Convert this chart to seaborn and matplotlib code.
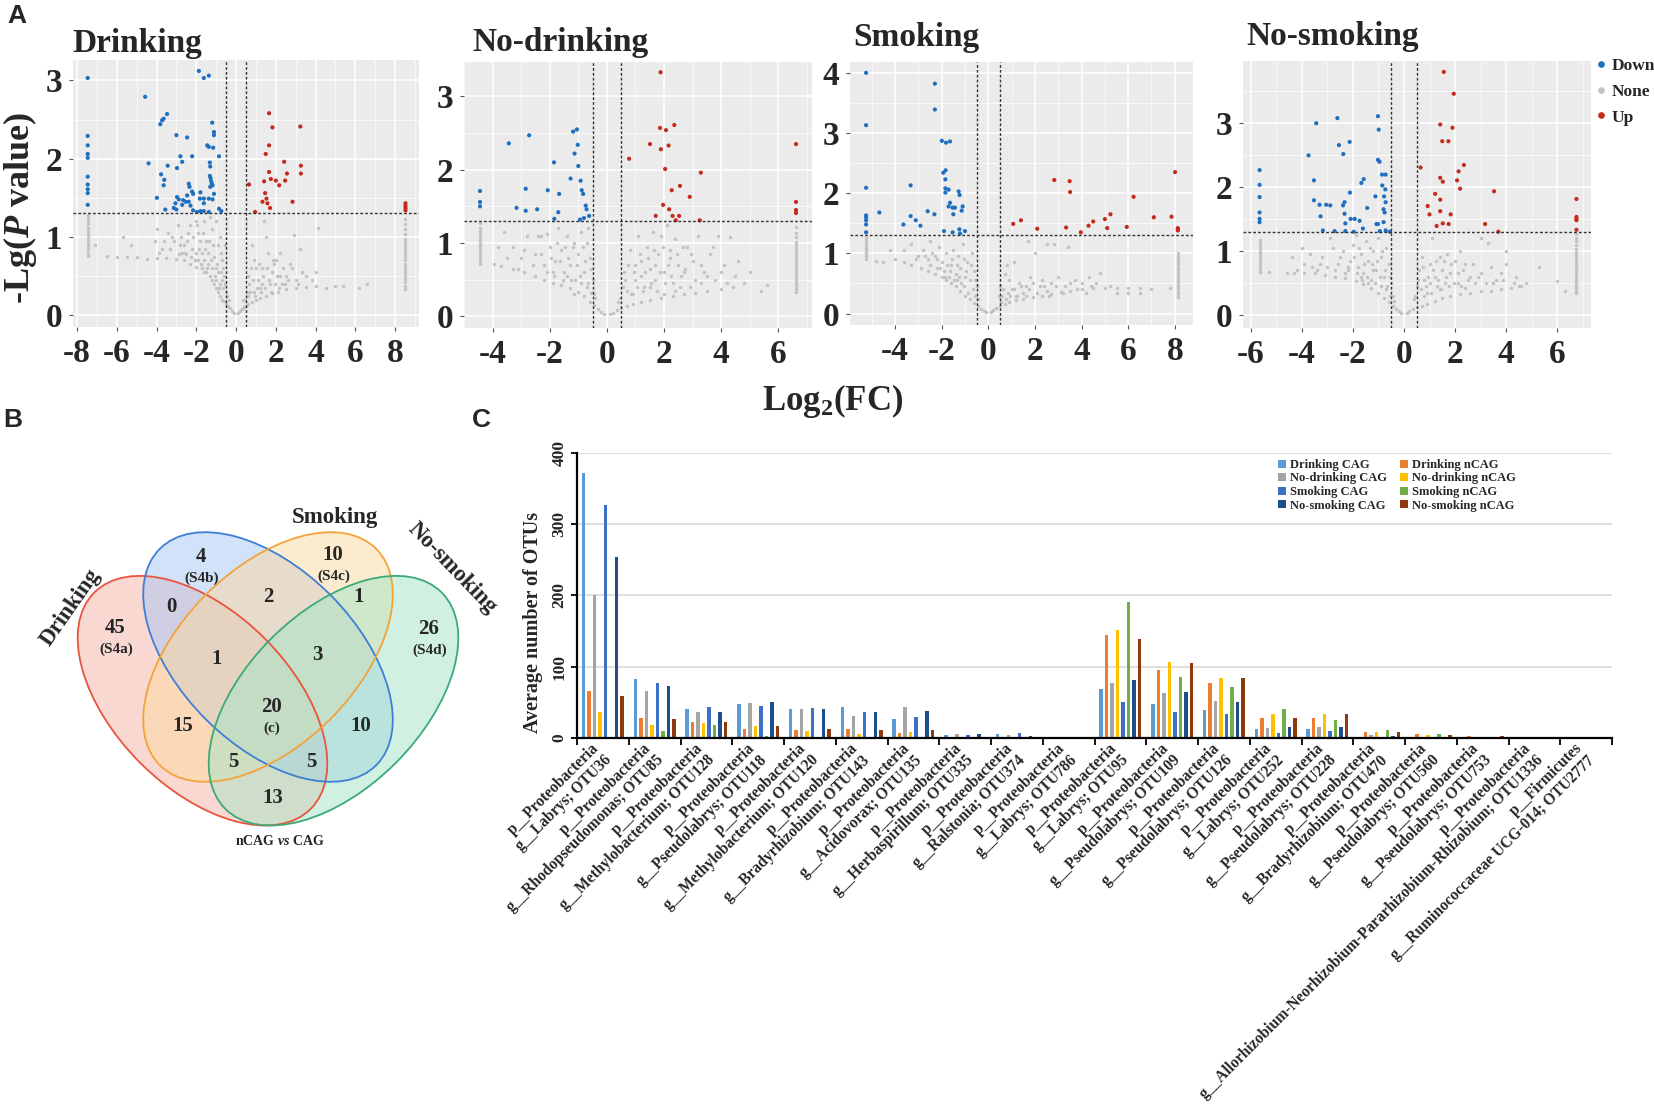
import matplotlib
matplotlib.use("Agg")
import matplotlib.pyplot as plt
import numpy as np
import pandas as pd
import seaborn as sns
from matplotlib.patches import Ellipse, Patch
from matplotlib.lines import Line2D
from matplotlib.ticker import MultipleLocator

W, H = 1654, 1108
SERIF = ["Liberation Serif", "DejaVu Serif"]
SANS = ["Liberation Sans", "DejaVu Sans"]

# ======================= Panel A data (log2FC, -lg P) =======================
dr_down = [(-7.46,3.03),(-7.46,2.29),(-7.46,2.17),(-7.46,2.06),(-7.46,2.01),(-7.46,1.77),(-7.46,1.67),(-7.46,1.61),(-7.46,1.56),(-7.46,1.41),
           (-4.57,2.79),(-1.87,3.12),(-1.62,3.03),(-1.37,3.06),(-3.47,2.57),(-3.64,2.51),(-3.72,2.49),(-3.81,2.44),(-3.0,2.30),(-2.46,2.27),
           (-1.20,2.46),(-1.11,2.34),(-1.11,2.30),(-1.45,2.17),(-1.37,2.15),(-1.15,2.14),(-2.80,2.03),(-2.21,2.03),(-2.71,1.96),(-0.86,2.03),
           (-4.40,1.94),(-3.44,1.91),(-2.97,1.88),(-1.32,1.95),(-1.30,1.90),(-3.77,1.80),(-3.61,1.73),(-3.64,1.66),(-1.32,1.78),(-1.28,1.75),
           (-1.25,1.71),(-1.22,1.68),(-1.18,1.66),(-1.30,1.64),(-2.38,1.68),(-2.34,1.64),(-2.21,1.58),(-2.16,1.55),(-2.46,1.53),(-1.79,1.57),
           (-1.11,1.55),(-3.98,1.50),(-2.97,1.51),(-2.88,1.48),(-2.66,1.47),(-2.54,1.45),(-3.05,1.43),(-2.71,1.41),(-2.38,1.45),(-2.29,1.40),
           (-1.82,1.49),(-1.62,1.49),(-1.37,1.49),(-1.18,1.48),(-1.62,1.43),(-3.56,1.35),(-3.13,1.37),(-3.0,1.35),(-2.16,1.34),(-1.96,1.32),
           (-1.79,1.33),(-1.62,1.33),(-1.37,1.32),(-0.86,1.36),(-0.74,1.33)]
dr_up = [(1.66,2.58),(1.83,2.40),(3.23,2.41),(1.66,2.17),(1.49,2.06),(2.42,1.96),(3.26,1.91),(1.66,1.83),(2.56,1.81),(3.26,1.81),
         (1.75,1.74),(2.0,1.72),(1.41,1.71),(2.47,1.72),(0.65,1.67),(2.17,1.66),(1.46,1.56),(1.53,1.49),(1.33,1.45),(2.84,1.45),
         (1.58,1.43),(1.71,1.37),(0.96,1.32),(8.52,1.43),(8.52,1.40),(8.52,1.37),(8.52,1.34)]
dr_none = [(-0.1,0.03),(-0.2,0.06),(-0.3,0.09),(-0.4,0.12),(-0.5,0.15),(-0.6,0.18),(-0.7,0.2),(-0.8,0.25),(-0.9,0.3),(-1.0,0.35),
           (-1.1,0.4),(-1.2,0.45),(-1.3,0.5),(-1.5,0.55),(-1.7,0.6),(-2.0,0.62),(-2.3,0.66),(-2.6,0.7),(-3.0,0.72),(-3.5,0.73),
           (-4.0,0.73),(-4.5,0.72),(-5.0,0.75),(-5.5,0.75),(-6.0,0.75),(-6.5,0.76),(-0.6,0.5),(-0.7,0.7),(-0.9,0.9),(-1.0,0.6),
           (-1.2,1.1),(-1.4,0.8),(-1.6,1.2),(-1.8,0.95),(-2.0,1.2),(-2.2,0.85),(-2.4,1.05),(-2.6,0.9),(-2.9,1.15),(-3.1,0.95),
           (-3.4,1.05),(-3.7,0.85),(-4.0,1.1),(-4.1,0.95),(-1.1,0.75),(-1.5,0.95),(-0.8,1.0),(-1.9,0.7),(-2.7,0.8),(-3.3,0.85),
           (-1.3,1.25),(-0.65,0.35),(-0.9,0.55),(-1.7,0.8),(-2.3,1.15),(-5.7,1.0),(-5.3,0.9),(-7.1,0.9),(-0.55,0.9),(-1.0,1.2),
           (-0.35,0.2),(-0.5,0.3),(-0.8,0.4),(-1.2,0.6),(-1.6,0.7),(-2.0,0.8),(-2.5,0.78),(-1.4,0.65),(-0.7,0.45),(-1.9,1.05),
           (-0.45,0.25),(-0.55,0.4),(-0.65,0.6),(-0.75,0.8),(-0.85,0.35),(-0.95,0.65),(-1.05,0.5),(-1.15,0.9),(-1.25,0.7),(-1.35,0.95),
           (-1.45,0.6),(-1.55,0.85),(-1.65,1.05),(-1.75,0.65),(-1.85,0.85),(-1.95,1.15),(-2.05,0.7),(-2.15,1.0),(-2.25,0.75),(-2.45,0.95),
           (-2.55,0.8),(-2.75,1.0),(-2.85,0.78),(-3.2,1.0),(-3.6,0.95),(-3.9,0.8),(-1.0,0.45),(-0.75,0.55),(-1.6,0.55),(-2.8,0.9),
           (0.1,0.03),(0.2,0.05),(0.3,0.08),(0.4,0.1),(0.5,0.12),(0.6,0.14),(0.8,0.17),(1.0,0.2),(1.2,0.22),(1.5,0.25),
           (1.8,0.28),(2.1,0.3),(2.5,0.33),(3.0,0.35),(3.5,0.36),(4.0,0.37),(4.5,0.35),(5.0,0.37),(5.4,0.38),(6.2,0.35),(6.6,0.4),
           (0.6,0.5),(0.8,0.9),(0.9,0.7),(1.1,0.45),(1.3,0.6),(1.4,1.2),(1.5,1.0),(1.6,0.8),(1.8,0.55),(2.0,0.7),
           (2.2,0.8),(2.5,0.5),(2.8,0.6),(3.0,0.45),(3.3,0.55),(2.9,1.03),(3.2,0.85),(4.1,1.12),(4.0,0.55),(1.2,0.35),
           (2.3,0.4),(0.7,0.3),(0.35,0.2),(0.6,0.25),(0.9,0.3),(1.3,0.4),(1.7,0.4),(2.2,0.5),(1.0,0.6),(1.9,0.65),
           (0.45,0.2),(0.55,0.3),(0.65,0.4),(0.75,0.6),(0.85,0.45),(0.95,0.25),(1.05,0.35),(1.15,0.65),(1.25,0.3),(1.35,0.5),
           (1.45,0.35),(1.55,0.6),(1.65,0.45),(1.75,0.3),(1.85,0.7),(1.95,0.4),(2.05,0.5),(2.15,0.35),(2.35,0.6),(2.45,0.4),
           (2.6,0.45),(2.7,0.65),(3.1,0.4),(3.5,0.5),(3.8,0.45)]
dr_col_x = [-7.46, 8.52]
dr_col_left = [0.76,0.80,0.84,0.88,0.92,0.96,1.00,1.04,1.08,1.12,1.16,1.20,1.24,1.28]
dr_col_right = [0.34,0.38,0.42,0.46,0.50,0.54,0.58,0.62,0.66,0.70,0.74,0.78,0.82,0.86,0.90,0.94,0.98,1.04,1.10,1.16,1.23]

nd_down = [(-4.44,1.71),(-4.44,1.56),(-4.44,1.50),(-3.43,2.36),(-2.72,2.47),(-2.84,1.74),(-3.16,1.48),(-2.84,1.44),(-2.44,1.46),(-2.07,1.72),
           (-1.85,2.10),(-1.67,1.67),(-1.70,1.42),(-1.84,1.33),(-1.18,2.52),(-1.05,2.55),(-1.02,2.34),(-1.13,2.22),(-1.0,2.05),(-1.27,1.88),
           (-0.92,1.85),(-0.88,1.72),(-0.83,1.67),(-0.74,1.51),(-0.71,1.46),(-0.62,1.37),(-0.80,1.34),(-0.94,1.32)]
nd_up = [(1.88,3.33),(1.86,2.57),(2.07,2.54),(2.36,2.61),(1.51,2.35),(2.16,2.33),(1.89,2.28),(0.78,2.15),(2.04,2.01),(3.29,1.96),
         (2.56,1.78),(2.27,1.72),(2.90,1.63),(1.97,1.52),(2.18,1.46),(1.71,1.37),(2.30,1.37),(2.53,1.37),(2.41,1.31),(3.25,1.31),
         (6.62,2.35),(6.62,1.56),(6.62,1.45),(6.62,1.41)]
nd_none = [(-0.1,0.03),(-0.2,0.06),(-0.3,0.1),(-0.45,0.15),(-0.6,0.2),(-0.8,0.28),(-1.0,0.33),(-1.3,0.38),(-1.6,0.42),(-1.9,0.45),
           (-2.2,0.5),(-2.5,0.55),(-2.9,0.6),(-3.3,0.65),(-3.7,0.68),(-3.95,0.72),(-0.5,0.5),(-0.6,0.8),(-0.7,1.0),(-0.8,0.6),
           (-0.9,1.15),(-1.0,0.85),(-1.1,0.5),(-1.2,0.95),(-1.3,0.7),(-1.4,1.1),(-1.5,0.6),(-1.6,0.9),(-1.7,1.2),(-1.8,0.75),
           (-2.0,0.95),(-2.2,0.7),(-2.3,1.1),(-2.5,0.85),(-2.8,1.1),(-2.9,0.9),(-3.1,0.65),(-3.3,0.95),(-3.6,1.15),(-3.8,0.95),
           (-2.1,1.12),(-1.15,0.3),(-0.55,0.32),(-2.4,1.1),(-1.9,0.6),(-0.65,1.2),(-0.4,0.25),(-0.9,0.45),(-1.4,0.55),(-0.7,0.4),
           (-0.45,0.3),(-0.55,0.65),(-0.65,0.45),(-0.75,0.75),(-0.85,0.95),(-0.95,0.55),(-1.05,0.7),(-1.15,1.0),(-1.25,0.5),(-1.35,0.8),
           (-1.45,0.95),(-1.55,0.5),(-1.65,0.75),(-1.75,1.0),(-1.85,0.55),(-1.95,0.8),(-2.1,0.6),(-2.3,0.85),(-2.6,0.7),(-3.0,0.8),(-3.5,0.8),
           (0.1,0.03),(0.2,0.05),(0.35,0.08),(0.5,0.11),(0.7,0.14),(0.9,0.17),(1.2,0.2),(1.5,0.22),(1.9,0.25),(2.3,0.27),
           (2.7,0.3),(3.1,0.32),(3.5,0.35),(4.0,0.37),(4.4,0.4),(4.8,0.45),(5.4,0.35),(5.6,0.42),(0.6,0.6),(0.7,0.35),
           (0.8,0.9),(1.0,0.5),(1.1,1.1),(1.2,0.75),(1.3,0.4),(1.4,0.95),(1.5,0.65),(1.6,1.15),(1.7,0.5),(1.8,0.85),
           (1.9,1.1),(2.0,0.6),(2.1,1.25),(2.2,0.9),(2.3,0.45),(2.4,1.05),(2.5,0.7),(2.6,0.55),(2.8,0.95),(2.9,0.4),
           (3.0,0.75),(3.2,1.1),(3.4,0.6),(3.6,0.85),(3.8,0.5),(4.1,0.7),(4.3,1.08),(4.5,0.55),(3.9,1.1),(2.0,0.3),
           (1.5,0.4),(0.4,0.2),(0.9,0.3),(1.2,0.55),(1.7,0.7),(2.4,0.35),(2.7,0.6),(3.3,0.45),(1.0,0.7),(2.2,0.8),
           (0.45,0.25),(0.55,0.4),(0.65,0.5),(0.75,0.7),(0.85,0.3),(0.95,0.6),(1.05,0.4),(1.15,0.85),(1.25,0.35),(1.35,0.6),
           (1.45,0.8),(1.55,0.45),(1.65,0.9),(1.75,0.35),(1.85,0.6),(1.95,0.95),(2.05,0.45),(2.15,0.7),(2.25,0.55),(2.45,0.85),
           (2.55,0.4),(2.65,0.95),(2.75,0.65),(2.95,0.85),(3.1,0.5),(3.3,0.7),(3.5,0.55),(3.7,0.95),(4.0,0.6),(4.2,0.45),
           (4.6,0.75),(5.0,0.6)]
nd_col_x = [-4.44, 6.62]
nd_col_left = [0.72,0.76,0.80,0.84,0.88,0.92,0.96,1.00,1.04,1.08,1.12,1.16,1.20,1.27]
nd_col_right = [0.33,0.37,0.41,0.45,0.49,0.53,0.57,0.61,0.65,0.69,0.73,0.77,0.81,0.85,0.89,0.93,0.97,1.02,1.08,1.14,1.22]

sm_down = [(-5.24,4.0),(-5.24,3.13),(-5.24,2.09),(-5.24,1.63),(-5.24,1.60),(-5.24,1.55),(-5.24,1.48),(-5.24,1.35),(-4.67,1.68),(-3.64,1.48),
           (-3.33,2.13),(-3.33,1.62),(-3.11,1.55),(-2.91,1.46),(-2.6,1.70),(-2.31,1.65),(-2.29,3.82),(-2.29,3.39),(-1.99,2.87),(-1.81,2.84),
           (-1.64,2.86),(-1.93,2.34),(-1.83,2.38),(-1.84,2.23),(-1.84,2.08),(-1.84,2.01),(-1.70,2.06),(-1.64,1.84),(-1.70,1.78),(-1.53,1.76),
           (-1.50,1.65),(-1.43,1.76),(-1.27,2.03),(-1.23,1.97),(-1.10,1.78),(-1.14,1.71),(-1.90,1.37),(-1.53,1.35),(-1.24,1.40),(-1.21,1.33),
           (-1.0,1.37)]
sm_up = [(1.07,1.49),(1.4,1.55),(2.1,1.41),(2.83,2.22),(3.49,2.20),(3.51,2.02),(3.34,1.43),(3.97,1.35),(4.3,1.46),(4.5,1.53),
         (5.0,1.57),(5.1,1.42),(5.24,1.65),(5.94,1.44),(6.23,1.94),(7.1,1.60),(7.86,1.61),(8.01,2.35),(8.13,1.42),(8.13,1.40),(8.13,1.38)]
sm_none = [(-0.1,0.02),(-0.2,0.05),(-0.3,0.08),(-0.45,0.12),(-0.6,0.18),(-0.8,0.24),(-1.0,0.3),(-1.2,0.38),(-1.4,0.45),(-1.6,0.5),
           (-1.8,0.55),(-2.0,0.6),(-2.3,0.65),(-2.6,0.7),(-2.9,0.75),(-3.3,0.8),(-3.6,0.85),(-4.0,0.9),(-4.5,0.85),(-4.8,0.87),
           (-0.5,0.45),(-0.6,0.7),(-0.7,1.0),(-0.8,0.55),(-0.9,0.85),(-1.0,0.6),(-1.1,1.15),(-1.2,0.75),(-1.3,0.95),(-1.4,0.65),
           (-1.5,1.05),(-1.6,0.8),(-1.7,0.6),(-1.8,1.0),(-2.0,0.85),(-2.1,1.1),(-2.3,0.95),(-2.5,1.2),(-2.6,0.9),(-2.8,1.05),
           (-3.0,0.95),(-3.3,1.15),(-3.6,1.05),(-4.2,1.05),(-2.2,0.75),(-1.9,0.7),(-0.55,0.3),(-1.05,0.45),(-2.4,1.0),(-1.35,0.55),
           (-0.45,0.25),(-0.55,0.55),(-0.65,0.4),(-0.75,0.8),(-0.85,0.35),(-0.95,0.7),(-1.05,0.9),(-1.15,0.5),(-1.25,0.6),(-1.35,0.8),
           (-1.45,0.55),(-1.55,0.9),(-1.65,0.7),(-1.75,0.8),(-1.85,0.6),(-2.05,0.75),(-2.2,0.9),(-2.5,0.8),(-2.7,0.95),(-3.1,0.9),
           (0.1,0.03),(0.2,0.06),(0.35,0.1),(0.5,0.13),(0.7,0.16),(0.9,0.19),(1.2,0.22),(1.5,0.25),(1.9,0.28),(2.3,0.3),
           (2.7,0.33),(3.1,0.36),(3.5,0.38),(4.0,0.4),(4.5,0.42),(5.0,0.42),(5.5,0.43),(6.0,0.43),(6.5,0.42),(7.0,0.4),(7.8,0.43),
           (0.5,0.45),(0.6,0.3),(0.7,0.65),(0.8,0.8),(0.9,0.55),(1.0,0.4),(1.1,0.85),(1.3,0.5),(1.5,0.35),(1.7,1.2),
           (1.8,0.6),(2.0,1.0),(2.2,0.45),(2.3,0.55),(2.5,1.15),(2.7,0.5),(3.0,0.6),(3.3,0.45),(3.4,1.1),(3.7,0.55),
           (4.0,0.5),(4.3,0.6),(4.6,0.5),(4.8,0.68),(5.2,0.45),(2.8,1.15),(1.6,0.45),(6.0,0.35),(1.2,0.3),(2.5,0.38),
           (0.45,0.3),(0.55,0.2),(0.65,0.4),(0.75,0.25),(0.85,0.35),(0.95,0.3),(1.1,0.4),(1.25,0.3),(1.4,0.45),(1.6,0.3),
           (1.75,0.4),(1.9,0.5),(2.1,0.35),(2.4,0.45),(2.6,0.3),(2.9,0.45),(3.2,0.35),(3.5,0.5),(3.8,0.4),(4.2,0.35),
           (4.4,0.45),(5.5,0.35),(6.5,0.35)]
sm_col_x = [-5.24, 8.13]
sm_col_left = [0.91,0.95,0.99,1.03,1.07,1.11,1.15,1.20,1.25]
sm_col_right = [0.28,0.32,0.36,0.40,0.44,0.48,0.52,0.56,0.60,0.64,0.68,0.72,0.76,0.80,0.84,0.88,0.92,0.96,1.00]

ns_down = [(-5.66,2.26),(-5.66,2.03),(-5.66,1.84),(-5.66,1.60),(-5.66,1.50),(-5.66,1.45),(-3.74,2.49),(-3.44,2.99),(-2.61,3.07),(-2.55,2.65),
           (-2.13,2.70),(-2.38,2.51),(-1.02,3.10),(-0.99,2.89),(-1.02,2.42),(-0.96,2.39),(-3.53,2.10),(-3.53,1.79),(-3.31,1.72),(-3.05,1.72),
           (-2.89,1.71),(-3.27,1.54),(-3.18,1.32),(-2.72,1.31),(-2.33,1.76),(-2.39,1.71),(-2.12,1.91),(-2.33,1.58),(-2.30,1.43),(-2.09,1.50),
           (-1.93,1.50),(-1.74,1.47),(-1.61,1.35),(-1.97,1.30),(-2.30,1.31),(-1.67,2.06),(-1.58,2.12),(-1.44,1.67),(-1.12,1.85),(-1.08,1.42),
           (-1.02,1.42),(-0.95,1.31),(-0.86,2.19),(-0.72,2.19),(-0.85,2.02),(-0.73,1.96),(-0.78,1.85),(-0.72,1.76),(-0.80,1.65),(-0.76,1.60),
           (-0.80,1.45),(-0.72,1.32),(-0.56,1.30)]
ns_up = [(1.56,3.79),(1.95,3.45),(1.42,2.97),(1.90,2.92),(1.50,2.71),(1.74,2.71),(0.65,2.30),(2.35,2.34),(2.14,2.24),(1.42,2.14),
         (1.52,2.08),(2.08,2.10),(2.20,1.97),(3.53,1.93),(1.22,1.89),(1.42,1.80),(0.93,1.70),(1.0,1.57),(1.42,1.62),(1.83,1.57),
         (1.52,1.43),(1.75,1.42),(1.28,1.39),(3.18,1.42),(3.70,1.30),(6.76,1.81),(6.76,1.53),(6.76,1.50),(6.76,1.48),(6.76,1.33)]
ns_none = [(-0.1,0.03),(-0.2,0.06),(-0.3,0.1),(-0.45,0.15),(-0.6,0.2),(-0.8,0.27),(-1.0,0.34),(-1.3,0.42),(-1.6,0.48),(-1.9,0.54),
           (-2.3,0.58),(-2.7,0.6),(-3.1,0.62),(-3.5,0.65),(-3.9,0.66),(-4.3,0.66),(-4.6,0.65),(-5.3,0.67),(-0.5,0.5),(-0.6,0.8),
           (-0.7,1.05),(-0.8,0.6),(-0.9,0.9),(-1.0,1.2),(-1.1,0.7),(-1.2,1.0),(-1.3,0.55),(-1.4,0.85),(-1.5,1.15),(-1.6,0.65),
           (-1.7,0.95),(-1.8,0.75),(-2.0,1.1),(-2.1,0.85),(-2.3,0.65),(-2.4,1.0),(-2.6,0.8),(-2.8,1.05),(-3.0,0.75),(-3.2,0.9),
           (-3.4,0.7),(-3.7,0.95),(-3.9,0.8),(-4.0,1.05),(-4.4,0.9),(-2.9,1.2),(-1.9,1.25),(-0.55,0.3),(-0.4,0.22),(-0.9,0.45),
           (-1.2,0.7),(-1.7,0.6),(-2.2,0.75),(-0.7,0.4),(-1.4,0.5),
           (-0.45,0.3),(-0.55,0.6),(-0.65,0.45),(-0.75,0.7),(-0.85,1.0),(-0.95,0.6),(-1.05,0.85),(-1.15,0.5),(-1.25,0.8),(-1.35,1.05),
           (-1.45,0.6),(-1.55,0.8),(-1.65,0.55),(-1.75,1.05),(-1.85,0.65),(-1.95,0.9),(-2.2,0.7),(-2.5,0.9),(-2.7,0.7),(-3.3,0.8),
           (-3.6,0.75),(-4.2,0.7),
           (0.1,0.03),(0.2,0.06),(0.35,0.09),(0.5,0.12),(0.7,0.15),(0.9,0.18),(1.2,0.22),(1.5,0.26),(1.8,0.3),(2.2,0.33),
           (2.6,0.35),(3.0,0.37),(3.4,0.38),(3.8,0.4),(4.2,0.43),(4.5,0.45),(4.8,0.5),(6.0,0.53),(6.3,0.37),(5.3,0.75),
           (0.5,0.45),(0.6,0.7),(0.7,0.9),(0.8,0.55),(0.9,0.35),(1.0,0.8),(1.1,1.2),(1.2,0.6),(1.3,0.45),(1.4,0.9),
           (1.5,0.7),(1.6,0.5),(1.7,0.95),(1.8,0.65),(2.0,0.85),(2.1,0.5),(2.3,0.7),(2.5,0.55),(2.7,0.8),(2.9,0.6),
           (3.0,1.2),(3.2,0.5),(3.4,0.75),(3.6,0.55),(3.8,0.65),(4.0,1.0),(4.0,0.8),(4.3,0.5),(2.2,1.0),(3.3,1.12),
           (0.4,0.25),(0.8,0.3),(1.4,0.4),(2.4,0.42),(1.0,0.5),
           (0.45,0.3),(0.55,0.55),(0.65,0.4),(0.75,0.75),(0.85,0.45),(0.95,0.6),(1.05,0.35),(1.15,0.7),(1.25,0.85),(1.35,0.55),
           (1.45,0.4),(1.55,0.85),(1.65,0.6),(1.75,0.45),(1.85,0.8),(1.95,0.5),(2.1,0.65),(2.25,0.45),(2.4,0.8),(2.6,0.6),
           (2.8,0.5),(3.0,0.65),(3.5,0.5),(3.9,0.55),(4.4,0.6),(4.6,0.45)]
ns_col_x = [-5.66, 6.76]
ns_col_left = [0.67,0.71,0.75,0.79,0.83,0.87,0.91,0.95,0.99,1.03,1.07,1.12,1.17]
ns_col_right = [0.34,0.38,0.42,0.46,0.50,0.54,0.58,0.62,0.66,0.70,0.74,0.78,0.82,0.86,0.90,0.94,0.98,1.03,1.09,1.15,1.21,1.27]

volcano_titles = ["Drinking", "No-drinking", "Smoking", "No-smoking"]
fc_cut = 0.5
p_cut = 0.05

# ======================= Panel B data (Venn counts) =======================
venn_sets = ["Drinking", "Smoking", "No-smoking"]
venn_counts = ["45", "4", "10", "26", "0", "2", "1", "1", "3", "20", "15", "10", "5", "5", "13"]
venn_sub = ["(S4a)", "(S4b)", "(S4c)", "(S4d)", "", "", "", "", "", "(c)", "", "", "", "", ""]
venn_caption = r"nCAG $vs$ CAG"

# ======================= Panel C data =======================
cat_phylum = ["p__Proteobacteria"] * 19 + ["p__Firmicutes"]
cat_genus = ["g__Labrys; OTU36", "g__Rhodopseudomonas; OTU85", "g__Methylobacterium; OTU128",
             "g__Pseudolabrys; OTU118", "g__Methylobacterium; OTU120", "g__Bradyrhizobium; OTU143",
             "g__Acidovorax; OTU135", "g__Herbaspirillum; OTU335", "g__Ralstonia; OTU374",
             "g__Labrys; OTU786", "g__Labrys; OTU95", "g__Pseudolabrys; OTU109", "g__Pseudolabrys; OTU126",
             "g__Labrys; OTU252", "g__Pseudolabrys; OTU228", "g__Bradyrhizobium; OTU470",
             "g__Pseudolabrys; OTU560", "g__Pseudolabrys; OTU753",
             "g__Allorhizobium-Neorhizobium-Pararhizobium-Rhizobium; OTU1336",
             "g__Ruminococcaceae UCG-014; OTU2777"]
drink_cag    = [372, 83, 41, 47, 40, 43.6, 27, 4, 6, 0, 68, 48, 39, 12, 12, 1.5, 0.5, 0, 0, 0]
drink_ncag   = [66, 28, 23, 12, 11, 12, 7, 1, 1, 0, 144, 95, 77, 28, 28, 8, 5, 2.5, 0, 0]
nodrink_cag  = [200, 66, 37, 49, 40, 31, 44, 6, 4, 0, 77, 63, 52, 14, 16, 4, 0.5, 0, 0, 0]
nodrink_ncag = [36, 18, 21, 17, 10, 6, 9, 1, 1, 0, 152, 106, 84, 33, 33, 9, 4, 2, 0, 0]
smoke_cag    = [327, 77, 43, 45, 42, 37, 30, 4, 7, 0, 50, 37, 34, 7.5, 9.5, 2, 1, 0, 0, 0]
smoke_ncag   = [0, 10, 18, 3, 2, 0.5, 0.5, 0.5, 0.5, 0, 191, 86, 71, 40, 25, 11, 5, 1.5, 0, 0]
nosmoke_cag  = [254, 73, 37, 50, 41, 36, 38, 6, 3.5, 0, 82, 65, 50, 15, 15.5, 3.5, 1.5, 0, 0, 0]
nosmoke_ncag = [59, 26, 22, 17, 13, 11, 11, 1, 1, 0, 139, 105, 84, 28, 33.5, 8, 4, 2.5, 0, 0]
series_names = ["Drinking CAG", "Drinking nCAG", "No-drinking CAG", "No-drinking nCAG",
                "Smoking CAG", "Smoking nCAG", "No-smoking CAG", "No-smoking nCAG"]
c_yticks = [0, 100, 200, 300, 400]

# ======================= styling =======================
sns.set_style("white")
plt.rcParams["font.family"] = SERIF
plt.rcParams["font.weight"] = "bold"
plt.rcParams["axes.unicode_minus"] = False
plt.rcParams["mathtext.fontset"] = "custom"
plt.rcParams["mathtext.rm"] = "Liberation Serif:bold"
plt.rcParams["mathtext.it"] = "Liberation Serif:italic:bold"
plt.rcParams["mathtext.bf"] = "Liberation Serif:bold"

fig = plt.figure(figsize=(W / 100, H / 100), dpi=100)


def box(l, t, r, b):
    return [l / W, 1 - b / H, (r - l) / W, (b - t) / H]


def fx(p):
    return p / W


def fy(p):
    return 1 - p / H


def build(down, up, none, colx, coll, colr):
    rows = [(x, y, "Down") for x, y in down] + [(x, y, "Up") for x, y in up]
    rows += [(x, y, "None") for x, y in none]
    rows += [(colx[0], y, "None") for y in coll] + [(colx[1], y, "None") for y in colr]
    return pd.DataFrame(rows, columns=["log2fc", "nlogp", "grp"])


vdata = [build(dr_down, dr_up, dr_none, dr_col_x, dr_col_left, dr_col_right),
         build(nd_down, nd_up, nd_none, nd_col_x, nd_col_left, nd_col_right),
         build(sm_down, sm_up, sm_none, sm_col_x, sm_col_left, sm_col_right),
         build(ns_down, ns_up, ns_none, ns_col_x, ns_col_left, ns_col_right)]
vbox = [(73, 60, 419, 327), (464, 62, 812, 328), (850, 62, 1193, 325), (1243, 61, 1591, 328)]
vxlim = [(-8.2, 9.2), (-5.0, 7.18), (-5.93, 8.78), (-6.31, 7.33)]
vylim = [(-0.15, 3.26), (-0.16, 3.47), (-0.19, 4.18), (-0.2, 3.96)]
vxt = [list(range(-8, 9, 2)), list(range(-4, 7, 2)), list(range(-4, 9, 2)), list(range(-6, 7, 2))]
vyt = [[0, 1, 2, 3], [0, 1, 2, 3], [0, 1, 2, 3, 4], [0, 1, 2, 3]]
vtitle_pos = [(72, 52), (472, 51), (853, 46), (1246, 45)]
pal = {"Down": "#1F6FC0", "Up": "#C62A1C", "None": "#C2C2C2"}

for i in range(4):
    ax = fig.add_axes(box(*vbox[i]))
    ax.set_facecolor("#EBEBEB")
    ax.set_axisbelow(True)
    df = vdata[i]
    sns.scatterplot(data=df[df.grp == "None"], x="log2fc", y="nlogp", color=pal["None"],
                    s=6, linewidth=0, ax=ax, legend=False, zorder=3)
    sns.scatterplot(data=df[df.grp != "None"], x="log2fc", y="nlogp", hue="grp",
                    palette=pal, s=9, linewidth=0, ax=ax, legend=False, zorder=4)
    for xv in (-fc_cut, fc_cut):
        ax.axvline(xv, color="#333333", lw=1.0, ls=(0, (2, 1.5)), zorder=5)
    ax.axhline(-np.log10(p_cut), color="#333333", lw=1.0, ls=(0, (2, 1.5)), zorder=5)
    ax.set_xlim(*vxlim[i])
    ax.set_ylim(*vylim[i])
    ax.set_xticks(vxt[i])
    ax.set_yticks(vyt[i])
    ax.xaxis.set_minor_locator(MultipleLocator(1))
    ax.yaxis.set_minor_locator(MultipleLocator(0.5))
    ax.grid(which="major", color="white", lw=1.1)
    ax.grid(which="minor", color="white", lw=0.5)
    ax.tick_params(which="major", bottom=True, left=True, length=3, width=0.8,
                   color="#555555", labelsize=24, pad=5)
    ax.tick_params(which="minor", length=0)
    for sp in ax.spines.values():
        sp.set_visible(False)
    ax.set_xlabel("")
    ax.set_ylabel("")
    tx, ty = vtitle_pos[i]
    fig.text(fx(tx), fy(ty), volcano_titles[i], fontsize=24, ha="left", va="baseline")

fig.text(fx(20), fy(208), r"-Lg($P$ value)", rotation=90, fontsize=26, ha="center", va="center")
fig.text(fx(833), fy(401), r"Log$_2$(FC)", fontsize=25, ha="center", va="center")

leg_handles = [Line2D([], [], ls="none", marker="o", ms=4.8, mec="none", mfc=pal[k], label=k)
               for k in ["Down", "None", "Up"]]
fig.legend(handles=leg_handles, loc="upper left", bbox_to_anchor=(fx(1597), fy(58)),
           frameon=False, fontsize=12.5, handlelength=0.5, handletextpad=0.35,
           labelspacing=0.55, borderpad=0, borderaxespad=0)

# panel letters
for lab, (px, py) in zip(["A", "B", "C"], [(17, 16), (13, 420), (481, 420)]):
    fig.text(fx(px), fy(py), lab, family=SANS, fontsize=19, weight="bold", ha="center", va="center")

# ======================= Panel B (Venn) =======================
axv = fig.add_axes(box(0, 470, 500, 860))
axv.set_xlim(0, 500)
axv.set_ylim(860, 470)
axv.axis("off")
ell_specs = [((202.5, 700.7), 45, "#E8543F", "#F7B3A6"),
             ((268, 657), 45, "#3E7FD6", "#A6C6F2"),
             ((268, 657), -45, "#F2A33A", "#FCD8A0"),
             ((333.5, 700.7), -45, "#3BAA78", "#A3E5C6")]
for c, ang, ec, fc in ell_specs:
    axv.add_patch(Ellipse(c, 306, 176, angle=ang, facecolor=fc, alpha=0.5, edgecolor="none"))
for c, ang, ec, fc in ell_specs:
    axv.add_patch(Ellipse(c, 306, 176, angle=ang, facecolor="none", edgecolor=ec, lw=1.3))
region_pos = [(115, 628), (201, 557), (333, 555), (429, 629), (171, 607), (268, 597), (359, 597),
              (217, 659), (317, 655), (271, 707), (183, 726), (361, 726), (233, 762), (311, 762), (273, 798)]
for (px, py), n, sub in zip(region_pos, venn_counts, venn_sub):
    axv.text(px, py, n, fontsize=15, ha="center", va="center")
    if sub:
        axv.text(px + 1, py + 21, sub, fontsize=11, ha="center", va="center")
axv.text(70, 608, venn_sets[0], fontsize=16.5, rotation=55, ha="center", va="center", rotation_mode="anchor")
axv.text(335, 518, venn_sets[1], fontsize=16.5, ha="center", va="center")
axv.text(452, 568, venn_sets[2], fontsize=16.5, rotation=-46, ha="center", va="center", rotation_mode="anchor")
axv.text(280, 841, venn_caption, fontsize=10, ha="center", va="center")

# ======================= Panel C (bars) =======================
cat_labels = [f"{p}\n{g}" for p, g in zip(cat_phylum, cat_genus)]
series_vals = [drink_cag, drink_ncag, nodrink_cag, nodrink_ncag, smoke_cag, smoke_ncag, nosmoke_cag, nosmoke_ncag]
series_colors = ["#5B9BD5", "#ED7D31", "#A5A5A5", "#FFC000", "#3C6FC8", "#70AD47", "#1F4E8C", "#8E3A10"]
dfc = pd.DataFrame([(cat_labels[j], series_names[k], series_vals[k][j])
                    for k in range(8) for j in range(20)], columns=["cat", "series", "val"])

axc = fig.add_axes(box(577, 452.7, 1612, 738))
sns.barplot(data=dfc, x="cat", y="val", hue="series", order=cat_labels, hue_order=series_names,
            palette=series_colors, width=0.85, gap=0.4, saturation=1, errorbar=None,
            linewidth=0, ax=axc, legend=False)
axc.set_xlim(-0.5, 19.5)
axc.set_ylim(0, 400)
axc.set_yticks(c_yticks)
axc.set_axisbelow(True)
axc.yaxis.grid(True, color="#D9D9D9", lw=1.2)
axc.xaxis.grid(False)
for s in ["top", "right"]:
    axc.spines[s].set_visible(False)
for s in ["left", "bottom"]:
    axc.spines[s].set_color("black")
    axc.spines[s].set_linewidth(1.6)
axc.set_xticks(np.arange(-0.5, 20, 1), minor=True)
axc.tick_params(axis="x", which="major", length=0, pad=10, labelsize=11.2)
axc.tick_params(axis="x", which="minor", bottom=True, length=5, width=1.3, color="black", direction="out")
axc.tick_params(axis="y", left=True, length=4, width=1.3, color="black", direction="out",
                labelsize=12.5, pad=3, labelrotation=90)
for lab in axc.get_yticklabels():
    lab.set_va("center")
for lab in axc.get_xticklabels():
    lab.set_rotation(45)
    lab.set_ha("right")
    lab.set_va("center")
    lab.set_rotation_mode("anchor")
    lab.set_linespacing(1.1)
axc.set_xlabel("")
axc.set_ylabel("")
fig.text(fx(533), fy(622), "Average number of OTUs", rotation=90, fontsize=14.5, ha="center", va="center")

legend_order = [0, 2, 4, 6, 1, 3, 5, 7]
c_handles = [Patch(facecolor=series_colors[k], edgecolor="none", label=series_names[k]) for k in legend_order]
axc.legend(handles=c_handles, ncol=2, loc="upper left", bbox_to_anchor=(fx(1278), fy(459)),
           bbox_transform=fig.transFigure, frameon=False, fontsize=9, handlelength=0.6,
           handleheight=0.6, handletextpad=0.4, columnspacing=1.0, labelspacing=0.12,
           borderpad=0, borderaxespad=0)

fig.savefig("out.png", dpi=100)
